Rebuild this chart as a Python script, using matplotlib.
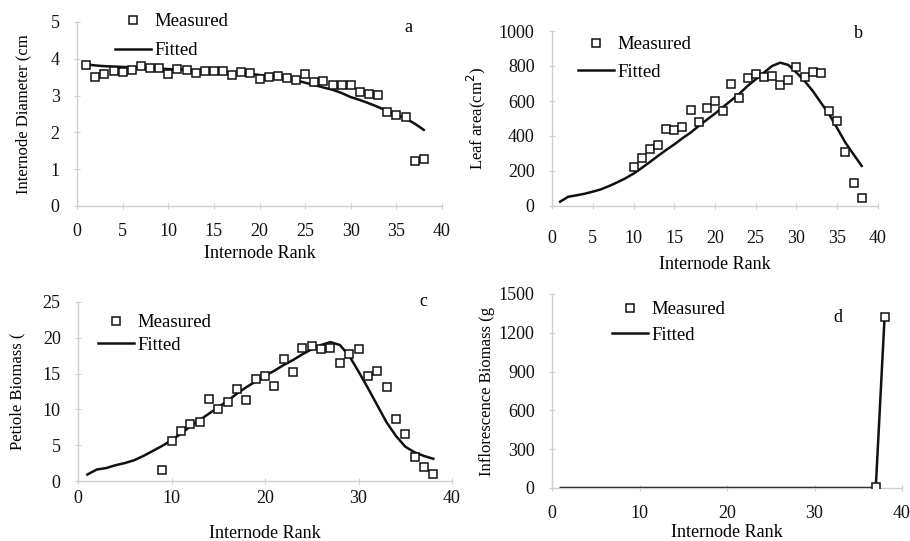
import matplotlib
matplotlib.use('Agg')
import matplotlib.pyplot as plt

plt.rcParams['font.family'] = ['Liberation Serif', 'DejaVu Serif']
plt.rcParams['font.size'] = 13

W, H = 910, 541

rank = list(range(1, 39))

diam_meas = [3.83, 3.51, 3.58, 3.66, 3.63, 3.70, 3.80, 3.75, 3.75, 3.60,
             3.72, 3.70, 3.62, 3.68, 3.68, 3.68, 3.57, 3.63, 3.61, 3.46,
             3.50, 3.52, 3.47, 3.42, 3.59, 3.36, 3.40, 3.29, 3.29, 3.29,
             3.09, 3.04, 3.02, 2.55, 2.47, 2.41, 1.23, 1.27]
diam_fit = [3.85, 3.82, 3.80, 3.79, 3.78, 3.77, 3.76, 3.75, 3.74, 3.72,
            3.71, 3.70, 3.68, 3.67, 3.66, 3.65, 3.63, 3.61, 3.59, 3.56,
            3.53, 3.50, 3.46, 3.42, 3.35, 3.29, 3.22, 3.16, 3.07, 2.96,
            2.88, 2.79, 2.69, 2.58, 2.48, 2.38, 2.24, 2.07]

leaf_rank = list(range(10, 39))
leaf_meas = [223, 276, 324, 349, 440, 434, 451, 547, 480, 562,
             600, 543, 695, 615, 733, 752, 739, 743, 690, 720,
             796, 737, 768, 762, 543, 486, 309, 130, 48]
leaf_fit = [25, 53, 61, 70, 82, 95, 114, 135, 158, 185,
            217, 251, 286, 320, 352, 387, 419, 457, 493, 528,
            566, 604, 642, 686, 724, 762, 800, 819, 806, 762,
            714, 657, 590, 524, 444, 362, 295, 229]

pet_rank = list(range(9, 39))
pet_meas = [1.6, 5.6, 7.0, 7.9, 8.3, 11.5, 10.0, 11.1, 12.9, 11.3,
            14.3, 14.6, 13.2, 17.1, 15.2, 18.6, 18.9, 18.4, 18.6, 16.5,
            17.7, 18.5, 14.7, 15.3, 13.1, 8.6, 6.5, 3.4, 1.9, 1.0]
pet_fit = [0.9, 1.6, 1.8, 2.2, 2.5, 2.9, 3.5, 4.2, 4.9, 5.7,
           6.6, 7.6, 8.5, 9.4, 10.3, 11.2, 12.2, 13.1, 13.9, 14.7,
           15.4, 16.2, 16.9, 17.7, 18.4, 19.0, 19.4, 19.0, 17.5, 15.3,
           13.0, 10.6, 8.2, 6.3, 4.8, 4.0, 3.5, 3.1]

infl_rank = [37, 38]
infl_meas = [5, 1320]
infl_fit_rank = [1, 37, 38]
infl_fit = [0, 0, 1310]


def px_axes(fig, left, top, right, bottom):
    return fig.add_axes([left / W, 1 - bottom / H, (right - left) / W, (bottom - top) / H])


def style(ax, xpad, ypad):
    for s in ['top', 'right']:
        ax.spines[s].set_visible(False)
    for s in ['left', 'bottom']:
        ax.spines[s].set_color('#cfcfcf')
        ax.spines[s].set_linewidth(1.0)
    ax.tick_params(axis='x', direction='inout', length=5, color='#cfcfcf', pad=xpad,
                   labelcolor='#111111', labelsize=13)
    ax.tick_params(axis='y', direction='inout', length=5, color='#cfcfcf', pad=ypad,
                   labelcolor='#111111', labelsize=13)


def panel(ax, xm, ym, xf, yf, legend_pos, spacing):
    m, = ax.plot(xm, ym, linestyle='none', marker='s', markersize=6,
                 markerfacecolor='white', markeredgecolor='#111111', markeredgewidth=1.1,
                 label='Measured', zorder=3)
    f, = ax.plot(xf, yf, color='#111111', linewidth=1.8, label='Fitted', zorder=2)
    ax.legend(handles=[m, f], loc='upper left',
              bbox_to_anchor=(legend_pos[0] / W, 1 - legend_pos[1] / H),
              bbox_transform=plt.gcf().transFigure, frameon=False,
              borderpad=0, borderaxespad=0, handlelength=1.9, handletextpad=0.2,
              labelspacing=spacing, fontsize=13.5)


fig = plt.figure(figsize=(W / 100, H / 100), dpi=100)

# a
ax = px_axes(fig, 77, 22, 442, 206)
panel(ax, rank, diam_meas, rank, diam_fit, (115, 13), 0.65)
ax.set_xlim(0, 40)
ax.set_ylim(0, 5)
ax.set_xticks(range(0, 41, 5))
ax.set_yticks(range(0, 6))
style(ax, 10, 10)
ax.set_xlabel('Internode Rank', labelpad=3)
ax.set_ylabel('Internode Diameter (cm', labelpad=14, fontsize=12)
fig.text(408 / W, 1 - 27 / H, 'a', ha='center', va='center', fontsize=13)

# b
ax = px_axes(fig, 552, 31, 878, 206)
panel(ax, leaf_rank, leaf_meas, rank, leaf_fit, (578, 36), 0.55)
ax.set_xlim(0, 40)
ax.set_ylim(0, 1000)
ax.set_xticks(range(0, 41, 5))
ax.set_yticks(range(0, 1001, 200))
style(ax, 15, 10)
ax.set_xlabel('Internode Rank', labelpad=6)
ax.set_ylabel('Leaf area(cm$^2$)', labelpad=8, fontsize=12)
fig.text(858 / W, 1 - 34 / H, 'b', ha='center', va='center', fontsize=13)

# c
ax = px_axes(fig, 78, 302, 452, 481)
panel(ax, pet_rank, pet_meas, rank, pet_fit, (98, 314), 0.3)
ax.set_xlim(0, 40)
ax.set_ylim(0, 25)
ax.set_xticks(range(0, 41, 10))
ax.set_yticks(range(0, 26, 5))
style(ax, 4, 10)
ax.set_xlabel('Internode Rank', labelpad=13)
ax.set_ylabel('Petiole Biomass (', labelpad=12, fontsize=12)
fig.text(423 / W, 1 - 302 / H, 'c', ha='center', va='center', fontsize=13)

# d
ax = px_axes(fig, 552, 294, 902, 488)
panel(ax, infl_rank, infl_meas, infl_fit_rank, infl_fit, (612, 301), 0.45)
ax.set_xlim(0, 40)
ax.set_ylim(0, 1500)
ax.set_xticks(range(0, 41, 10))
ax.set_yticks(range(0, 1501, 300))
style(ax, 10, 10)
ax.set_xlabel('Internode Rank', labelpad=1)
ax.set_ylabel('Inflorescence Biomass (g', labelpad=3, fontsize=12)
fig.text(838 / W, 1 - 317 / H, 'd', ha='center', va='center', fontsize=13)

fig.savefig('out.png', dpi=100)
